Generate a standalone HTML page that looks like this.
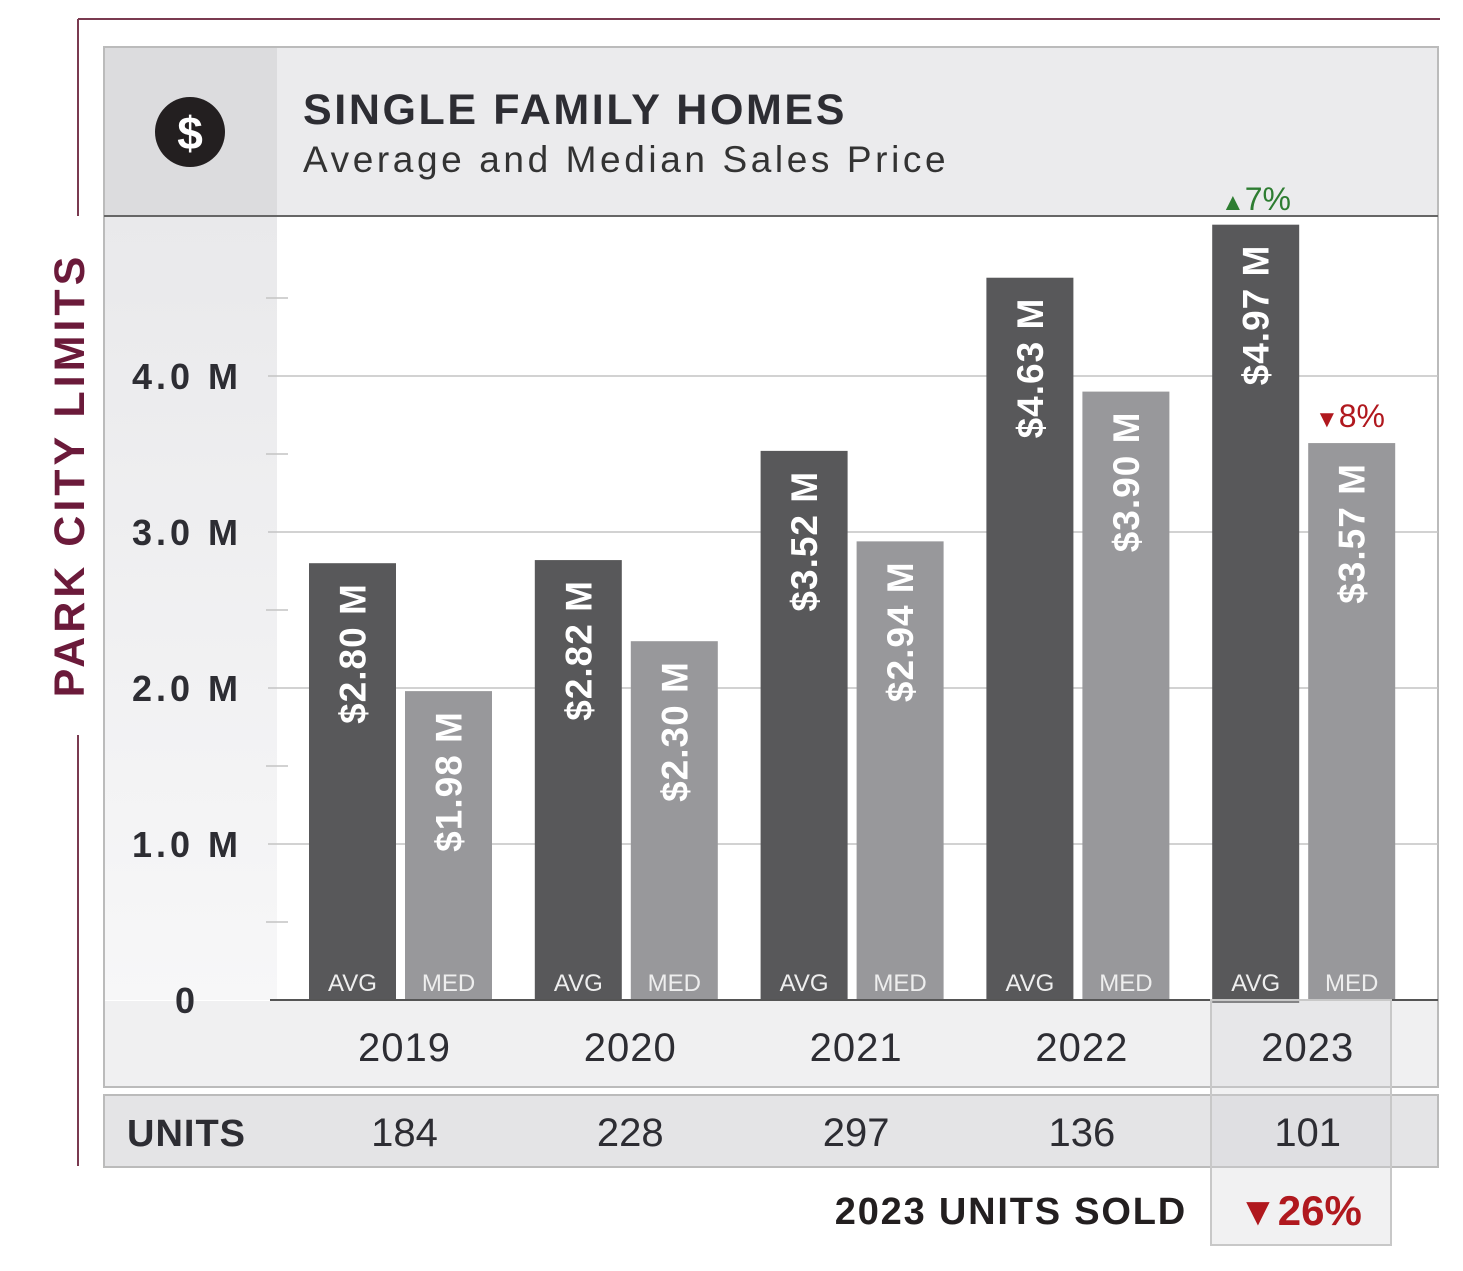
<!DOCTYPE html>
<html><head><meta charset="utf-8"><style>
body{margin:0;background:#fff}
svg{display:block;font-family:"Liberation Sans",sans-serif}
</style></head><body>
<svg id="chart" width="1463" height="1271" viewBox="0 0 1463 1271">
<defs>
<linearGradient id="lg" x1="0" y1="0" x2="0" y2="1"><stop offset="0" stop-color="#e9e9eb"/><stop offset="1" stop-color="#f7f7f8"/></linearGradient>
</defs>
<g>
<line x1="78" y1="19" x2="1440" y2="19" stroke="#7a3a50" stroke-width="2"/>
<line x1="78" y1="19" x2="78" y2="216" stroke="#7a3a50" stroke-width="2"/>
<line x1="78" y1="735" x2="78" y2="1166" stroke="#7a3a50" stroke-width="2"/>
<text transform="translate(84,475) rotate(-90)" text-anchor="middle" font-size="43" font-weight="bold" fill="#6b1a3a" letter-spacing="4">PARK CITY LIMITS</text>
</g>
<rect x="104" y="47" width="1334" height="1040" fill="#fff" stroke="#bbb" stroke-width="2"/>
<rect x="105" y="48" width="1332" height="168" fill="#ebebed"/>
<rect x="105" y="48" width="172" height="168" fill="#dcdcde"/>
<rect x="105" y="216" width="172" height="784" fill="url(#lg)"/>
<line x1="104" y1="216" x2="1438" y2="216" stroke="#666" stroke-width="2"/>
<circle cx="190" cy="132" r="35" fill="#231f20"/>
<text x="190" y="149" text-anchor="middle" font-size="46" font-weight="bold" fill="#fff">$</text>
<text x="303" y="124" font-size="43" font-weight="bold" fill="#2d2d33" letter-spacing="2.6">SINGLE FAMILY HOMES</text>
<text x="303" y="172" font-size="37" fill="#333" letter-spacing="3.6">Average and Median Sales Price</text>
<rect x="105" y="1001" width="1332" height="85" fill="#f0f0f1"/>
<g id="grid"></g>
<g id="bars"></g>
<line x1="270" y1="1000" x2="1438" y2="1000" stroke="#555" stroke-width="2"/>
<rect x="104" y="1095" width="1334" height="72" fill="#e4e4e6" stroke="#bbb" stroke-width="2"/>
<text x="127" y="1146" font-size="38" font-weight="bold" fill="#2d2d33" letter-spacing="1">UNITS</text>
<rect x="1211" y="1000" width="180" height="245" fill="#d8d8da" fill-opacity="0.35" stroke="#c8c8c8" stroke-width="2"/>
<g id="labels"></g>
<text x="1187" y="1224" text-anchor="end" font-size="38" font-weight="bold" fill="#231f20" letter-spacing="1.8">2023 UNITS SOLD</text>
<text x="1300" y="1225" text-anchor="middle" font-size="42" font-weight="bold" fill="#b0181e"><tspan font-size="40">▼</tspan>26%</text>
<text x="1256" y="210" text-anchor="middle" font-size="32" fill="#2e7d32"><tspan font-size="24">▲</tspan>7%</text>
<text x="1350" y="427" text-anchor="middle" font-size="32" fill="#b0181e"><tspan font-size="24">▼</tspan>8%</text>
</svg>
<script>
const years = ["2019","2020","2021","2022","2023"];
const avgValues = [2.80, 2.82, 3.52, 4.63, 4.97];
const medValues = [1.98, 2.30, 2.94, 3.90, 3.57];
const avgLabels = ["$2.80 M","$2.82 M","$3.52 M","$4.63 M","$4.97 M"];
const medLabels = ["$1.98 M","$2.30 M","$2.94 M","$3.90 M","$3.57 M"];
const units = ["184","228","297","136","101"];
const yTicks = [0,1,2,3,4];
const yTickLabels = ["0","1.0 M","2.0 M","3.0 M","4.0 M"];
const minorTicks = [0.5,1.5,2.5,3.5,4.5];

const NS="http://www.w3.org/2000/svg";
const y = v => 1000 - v*156;
const xg = i => 309 + i*225.8;
const BW = 87, MOFF = 96;
function mk(tag, attrs, parent, txt){
  const e=document.createElementNS(NS,tag);
  for(const k in attrs) e.setAttribute(k,attrs[k]);
  if(txt!==undefined) e.textContent=txt;
  parent.appendChild(e); return e;
}
const grid=document.getElementById('grid'), bars=document.getElementById('bars'), labels=document.getElementById('labels');
yTicks.forEach((t,i)=>{
  if(t>0){
    const l=mk('line',{x1:268,x2:1438,y1:y(t),y2:y(t),stroke:'#c4c4c4','stroke-width':1.5},grid);
    
    
  }
  const tx=mk('text',{x:187,y:y(t)+13,'text-anchor':'middle','font-size':36,'font-weight':'bold',fill:'#2d2d33','letter-spacing':4},grid,yTickLabels[i]);
  
  
});
minorTicks.forEach(t=>{
  const l=mk('line',{x1:266,x2:288,y1:y(t),y2:y(t),stroke:'#c4c4c4','stroke-width':1.5},grid);
  
  
});
years.forEach((yr,i)=>{
  const x=xg(i);
  [[avgValues[i],avgLabels[i],x,'#58585a','AVG','avg'],[medValues[i],medLabels[i],x+MOFF,'#98989b','MED','med']].forEach(([v,lab,bx,col,tag,nm])=>{
    const r=mk('rect',{x:bx,y:y(v),width:BW,height:1000-y(v)+(i===4&&nm==='avg'?3:0),fill:col},bars);
    
    
    const cx=bx+BW/2, ty=y(v)+20;
    const t=mk('text',{transform:`translate(${cx+13},${ty}) rotate(-90)`,'text-anchor':'end','font-size':37,'font-weight':'bold',fill:'#fff','letter-spacing':1},bars,lab);
    
    
    const s=mk('text',{x:cx,y:991,'text-anchor':'middle','font-size':24,fill:'#eee'},bars,tag);
    
    
  });
  const cx=x+(MOFF+BW)/2+4;
  const yl=mk('text',{x:cx,y:1061,'text-anchor':'middle','font-size':40,fill:'#2d2d33','letter-spacing':1},labels,yr);
  
  
  const ul=mk('text',{x:cx,y:1146,'text-anchor':'middle','font-size':40,fill:'#2d2d33'},labels,units[i]);
  
  
});
</script>
</body></html>
